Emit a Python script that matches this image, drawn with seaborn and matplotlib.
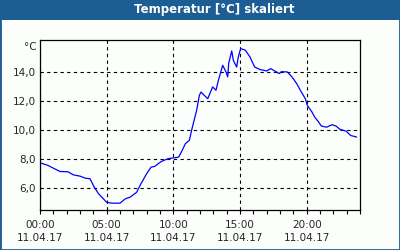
import numpy as np
import pandas as pd
import seaborn as sns
import matplotlib.pyplot as plt
from matplotlib.patches import Rectangle
from matplotlib.ticker import MultipleLocator, FixedLocator, FuncFormatter

# values (hour of day, temperature in °C)
hours = [0.0, 0.6, 1.0, 1.5, 2.1, 2.5, 3.0, 3.4, 3.75, 4.07, 4.4, 4.75, 5.0, 5.4, 6.0, 6.4,
         6.75, 7.25, 7.5, 8.0, 8.33, 8.6, 9.1, 9.6, 10.4, 10.6, 10.9, 11.2, 11.4, 11.75,
         11.95, 12.08, 12.2, 12.58, 12.95, 13.2, 13.38, 13.7, 13.95, 14.08, 14.15, 14.38,
         14.5, 14.75, 14.87, 15.05, 15.4, 15.75, 16.1, 16.5, 17.0, 17.3, 17.6, 17.95, 18.1,
         18.55, 18.9, 19.25, 19.6, 19.9, 20.05, 20.4, 20.6, 20.9, 21.1, 21.5, 21.9, 22.2,
         22.5, 22.95, 23.3, 23.75]
temps = [7.75, 7.57, 7.38, 7.15, 7.13, 6.92, 6.83, 6.69, 6.65, 6.07, 5.61, 5.27, 5.03, 4.97,
         4.97, 5.27, 5.38, 5.72, 6.19, 7.0, 7.45, 7.5, 7.84, 8.03, 8.14, 8.48, 9.06, 9.29,
         10.1, 11.36, 12.39, 12.62, 12.5, 12.16, 12.97, 12.74, 13.43, 14.46, 14.0, 13.66,
         14.58, 15.45, 14.8, 14.34, 15.03, 15.61, 15.5, 15.03, 14.34, 14.17, 14.07, 14.23,
         14.07, 13.89, 14.02, 14.0, 13.66, 13.2, 12.62, 12.16, 11.7, 11.24, 10.9, 10.55,
         10.28, 10.2, 10.37, 10.28, 10.05, 9.93, 9.63, 9.52]
x_ticks = [0, 5, 10, 15, 20]
x_tick_labels = ["00:00\n11.04.17", "05:00\n11.04.17", "10:00\n11.04.17",
                 "15:00\n11.04.17", "20:00\n11.04.17"]
y_ticks = [6, 8, 10, 12, 14]
title = "Temperatur [°C] skaliert"

frame_blue = "#1C5E94"
bg = "#FCFEFC"

sns.set_style("white")
plt.rcParams["font.family"] = ["DejaVu Sans"]

df = pd.DataFrame({"hour": hours, "temp": temps})

fig = plt.figure(figsize=(4, 2.5), dpi=100, facecolor=bg)
ax = fig.add_axes([0.1, 0.16, 0.8, 0.68])
ax.set_facecolor(bg)

sns.lineplot(data=df, x="hour", y="temp", ax=ax, color="#0000FF", linewidth=0.9)

ax.set_xlim(0, 24)
ax.set_ylim(4.5, 16.2)
ax.xaxis.set_major_locator(FixedLocator(x_ticks))
ax.set_xticklabels(x_tick_labels, fontsize=7.5, linespacing=1.45)
ax.xaxis.set_minor_locator(MultipleLocator(1))
ax.set_yticks(y_ticks)
ax.yaxis.set_major_formatter(FuncFormatter(lambda v, p: f"{v:.1f}".replace(".", ",")))
ax.tick_params(axis="y", length=0, labelsize=7.5, pad=3)
ax.tick_params(axis="x", which="both", direction="out", length=3, width=0.8,
               bottom=True, color="black", pad=4)
ax.grid(True, color="black", linestyle=(0, (3, 3)), linewidth=0.8)
ax.set_xlabel("")
ax.set_ylabel("")
for s in ax.spines.values():
    s.set_color("black")
    s.set_linewidth(0.9)

ax.text(-0.012, 0.96, "°C", transform=ax.transAxes, ha="right", va="center", fontsize=7.5)

# title bar and window frame
fig.patches.append(Rectangle((0, 0.92), 1, 0.08, transform=fig.transFigure,
                             facecolor=frame_blue, edgecolor="none", zorder=0))
fig.patches.append(Rectangle((0, 0), 1, 1, transform=fig.transFigure, fill=False,
                             edgecolor=frame_blue, linewidth=2, zorder=5))
fig.text(0.535, 0.96, title, color="white", fontsize=8.5, fontweight="bold",
         ha="center", va="center")

fig.savefig("out.png", dpi=100, facecolor=bg)
